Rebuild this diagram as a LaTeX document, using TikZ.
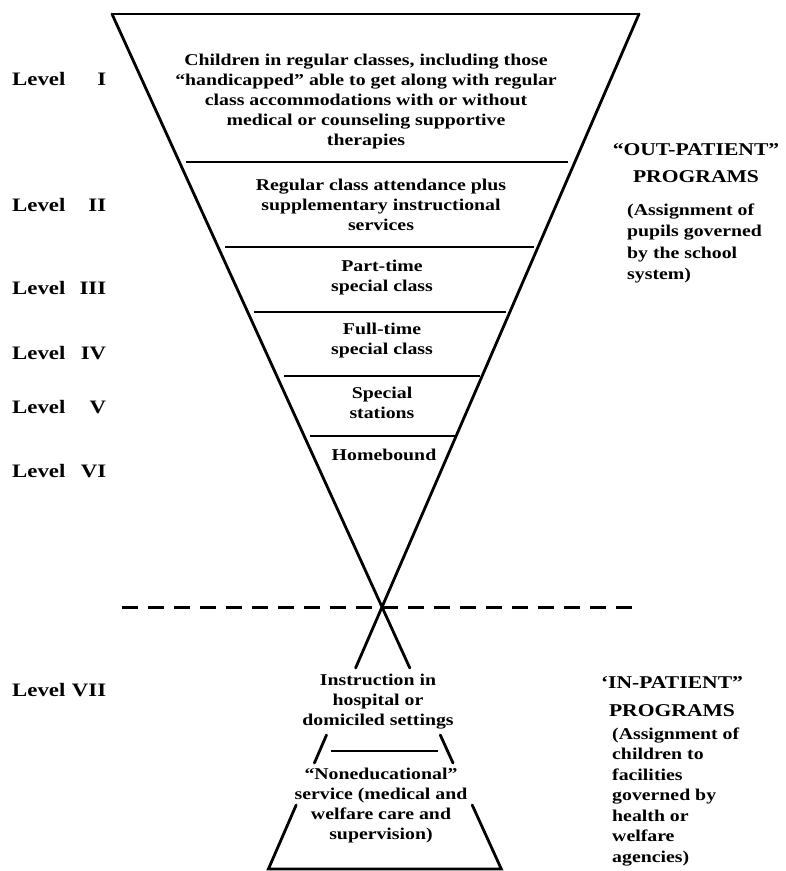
\documentclass[tikz,border=0pt]{standalone}
\usepackage{fontspec}
\setmainfont{Liberation Serif}[FakeStretch=1.2]
\begin{document}
\begin{tikzpicture}[x=1pt,y=-1pt,
  side/.style={line width=2.8pt, line cap=round},
  rulebar/.style={line width=2.4pt},
  divider/.style={line width=3pt, dash pattern=on 16pt off 10pt},
  boxtext/.style={inner sep=0pt, align=center, font=\fontsize{16.5}{20}\selectfont\bfseries},
  lvl/.style={inner sep=0pt, anchor=west, font=\fontsize{19}{22}\selectfont\bfseries},
  head/.style={inner sep=0pt, align=center, font=\fontsize{18}{27.5}\selectfont\bfseries},
  note/.style={inner sep=0pt, anchor=west, align=left, font=\fontsize{16.5}{21.2}\selectfont\bfseries},
  notelow/.style={note, font=\fontsize{16.5}{20.5}\selectfont\bfseries}]
\useasboundingbox (0,0) rectangle (786,871);

% geometry of the inverted triangle / hourglass
\coordinate (TL) at (112,14);
\coordinate (TR) at (639,14);
\coordinate (A) at (382,607);
\coordinate (LA) at (409.8,668);
\coordinate (RA) at (355.6,668);
\coordinate (LB1) at (326.5,735);
\coordinate (LB2) at (314.4,763);
\coordinate (RB1) at (440.3,735);
\coordinate (RB2) at (453.0,763);
\coordinate (LC1) at (296.2,805);
\coordinate (LC2) at (268.4,869);
\coordinate (RC1) at (472.2,805);
\coordinate (RC2) at (501.3,869);

\draw[side] (TL) -- (TR);
\draw[side] (TL) -- (LA);
\draw[side] (TR) -- (RA);
\draw[side] (LB1) -- (LB2);
\draw[side] (RB1) -- (RB2);
\draw[side] (LC1) -- (LC2) -- (RC2) -- (RC1);

% horizontal rules
\coordinate (h1a) at (186,162); \coordinate (h1b) at (568,162);
\coordinate (h2a) at (225,247); \coordinate (h2b) at (534,247);
\coordinate (h3a) at (254,312); \coordinate (h3b) at (506,312);
\coordinate (h4a) at (284,376); \coordinate (h4b) at (480,376);
\coordinate (h5a) at (310,436); \coordinate (h5b) at (455,436);
\coordinate (h6a) at (331,751); \coordinate (h6b) at (438,751);
\draw[rulebar] (h1a) -- (h1b);
\draw[rulebar] (h2a) -- (h2b);
\draw[rulebar] (h3a) -- (h3b);
\draw[rulebar] (h4a) -- (h4b);
\draw[rulebar] (h5a) -- (h5b);
\draw[rulebar] (h6a) -- (h6b);

% dashed divider
\coordinate (D1) at (122,607);
\coordinate (D2) at (640,607);
\draw[divider] (D1) -- (D2);

% texts inside
\node[boxtext] (t1) at (366,102) {Children in regular classes, including those\\
``handicapped'' able to get along with regular\\
class accommodations with or without\\
medical or counseling supportive\\
therapies};
\node[boxtext] (t2) at (381,205) {Regular class attendance plus\\supplementary instructional\\services};
\node[boxtext] (t3) at (382,277.5) {Part-time\\special class};
\node[boxtext] (t4) at (382,341) {Full-time\\special class};
\node[boxtext] (t5) at (382,402.5) {Special\\stations};
\node[boxtext] (t6) at (384,455) {Homebound};
\node[boxtext] (t7) at (378,702) {Instruction in\\hospital or\\domiciled settings};
\node[boxtext] (t8) at (381,806) {``Noneducational''\\service (medical and\\welfare care and\\supervision)};

% level labels
\node[lvl] (l1) at (12,79) {\makebox[94pt]{Level\hfill I}};
\node[lvl] (l2) at (12,205) {\makebox[94pt]{Level\hfill II}};
\node[lvl] (l3) at (12,288) {\makebox[94pt]{Level\hfill III}};
\node[lvl] (l4) at (12,353) {\makebox[94pt]{Level\hfill IV}};
\node[lvl] (l5) at (12,407) {\makebox[94pt]{Level\hfill V}};
\node[lvl] (l6) at (12,471) {\makebox[94pt]{Level\hfill VI}};
\node[lvl] (l7) at (12,690) {\makebox[94pt]{Level\hfill VII}};

% right-hand headings and notes
\node[head] (oh) at (696,163) {``OUT-PATIENT''\\PROGRAMS};
\node[note] (on) at (627,243.5) {(Assignment of\\pupils governed\\by the school\\system)};
\node[head] (ih) at (672,696.5) {`IN-PATIENT''\\PROGRAMS};
\node[notelow] (in) at (612,797) {(Assignment of\\children to\\facilities\\governed by\\health or\\welfare\\agencies)};
\end{tikzpicture}
\end{document}
